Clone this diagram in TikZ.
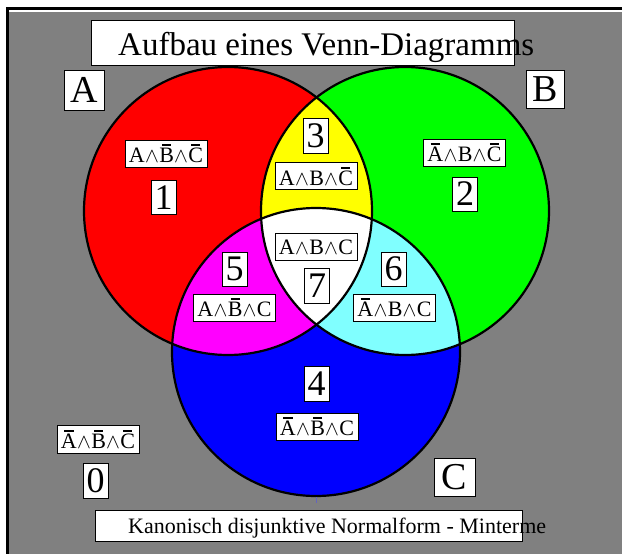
\documentclass[tikz,border=0pt]{standalone}
\usepackage{fontspec}
\setmainfont{Liberation Serif}
\newcommand\nb[1]{\setbox0\hbox{#1}\rlap{\hbox to\wd0{\hfil\raisebox{0.74em}{\rule{0.6\wd0}{0.09em}}\hfil}}\box0}
\newcommand\wdg{\kern0.3pt\ensuremath{\mathord{\wedge}}\kern0.3pt}
\definecolor{bggray}{RGB}{128,128,128}
\definecolor{lcyan}{RGB}{128,255,255}
\definecolor{cred}{RGB}{255,0,0}
\definecolor{cgreen}{RGB}{0,255,0}
\definecolor{cblue}{RGB}{0,0,255}
\definecolor{cyellow}{RGB}{255,255,0}
\definecolor{cmag}{RGB}{255,0,255}
\tikzset{
  lbl/.style={draw=black, fill=white, line width=0.8pt, inner sep=0pt,
    minimum width=82pt, minimum height=27pt, font=\fontsize{22}{22}\selectfont},
  num/.style={draw=black, fill=white, line width=0.8pt, inner sep=0pt,
    minimum width=25pt, minimum height=34pt, font=\fontsize{36}{36}\selectfont},
  setlbl/.style={draw=black, fill=white, line width=0.8pt, inner sep=0pt,
    minimum width=39pt, minimum height=38pt, font=\fontsize{38}{38}\selectfont},
  ring/.style={draw=black, line width=2.2pt},
  frame/.style={draw=black, fill=white, line width=0.8pt}
}
\begin{document}
\begin{tikzpicture}[x=1pt,y=-1pt]
\useasboundingbox (0,0) rectangle (622,554);
\fill[white] (0,0) rectangle (622,554);
\fill[bggray] (9,12) rectangle (622,554);
\draw[line width=3.5pt] (7.5,554) -- (7.5,8.5) -- (622,8.5);
% circles
\coordinate (cA) at (228,211);
\coordinate (cB) at (405,211);
\coordinate (cC) at (316,352);
\fill[cred] (cA) circle[radius=144pt];
\fill[cgreen] (cB) circle[radius=144pt];
\fill[cblue] (cC) circle[radius=144pt];
\begin{scope}\clip (cA) circle[radius=144pt]; \fill[cyellow] (cB) circle[radius=144pt];\end{scope}
\begin{scope}\clip (cA) circle[radius=144pt]; \fill[cmag] (cC) circle[radius=144pt];\end{scope}
\begin{scope}\clip (cB) circle[radius=144pt]; \fill[lcyan] (cC) circle[radius=144pt];\end{scope}
\begin{scope}\clip (cA) circle[radius=144pt]; \clip (cB) circle[radius=144pt]; \fill[white] (cC) circle[radius=144pt];\end{scope}
\draw[ring] (cA) circle[radius=144pt];
\draw[ring] (cB) circle[radius=144pt];
\draw[ring] (cC) circle[radius=144pt];
% small tick below C
\coordinate (t1) at (316,497);
\coordinate (t2) at (316,503);
\draw[color={rgb,255:red,100;green,100;blue,190}, line width=0.8pt] (t1) -- (t2);
% title
\draw[frame] (91,20) rectangle (514,65);
\node[anchor=base west, inner sep=0pt, font=\fontsize{33}{33}\selectfont] (title) at (118,56) {Aufbau eines Venn-Diagramms};
% footer
\draw[frame] (95,510) rectangle (522,541);
\node[anchor=base west, inner sep=0pt, font=\fontsize{22}{22}\selectfont] (foot) at (128,533) {Kanonisch disjunktive Normalform - Minterme};
% set labels
\node[setlbl, minimum width=40pt, minimum height=40pt] (A) at (84.5,90) {A};
\node[setlbl, minimum width=38pt] (B) at (545,89) {B};
\node[setlbl, minimum width=41pt] (C) at (454.5,477) {C};
% minterm labels
\node[lbl] (f1) at (166,153.5) {A\wdg\nb{B}\wdg\nb{C}};
\node[num] (n1) at (163.5,197.5) {1};
\node[num, minimum height=35pt] (n3) at (315.5,135.5) {3};
\node[lbl] (f3) at (316,176) {A\wdg B\wdg\nb{C}};
\node[lbl] (f2) at (464.5,152.5) {\nb{A}\wdg B\wdg\nb{C}};
\node[num] (n2) at (465,194) {2};
\node[lbl] (f7) at (316,247) {A\wdg B\wdg C};
\node[num, minimum height=35pt] (n7) at (317,285.5) {7};
\node[num] (n5) at (234.5,269) {5};
\node[lbl] (f5) at (234.5,307.5) {A\wdg\nb{B}\wdg C};
\node[num] (n6) at (393.5,269) {6};
\node[lbl] (f6) at (394.5,307.5) {\nb{A}\wdg B\wdg C};
\node[num, minimum height=35pt] (n4) at (316.5,383.5) {4};
\node[lbl] (f4) at (317,426.5) {\nb{A}\wdg\nb{B}\wdg C};
\node[lbl, minimum height=28pt] (f0) at (98,439) {\nb{A}\wdg\nb{B}\wdg\nb{C}};
\node[num, minimum height=35pt] (n0) at (95.5,480.5) {0};
\end{tikzpicture}
\end{document}
